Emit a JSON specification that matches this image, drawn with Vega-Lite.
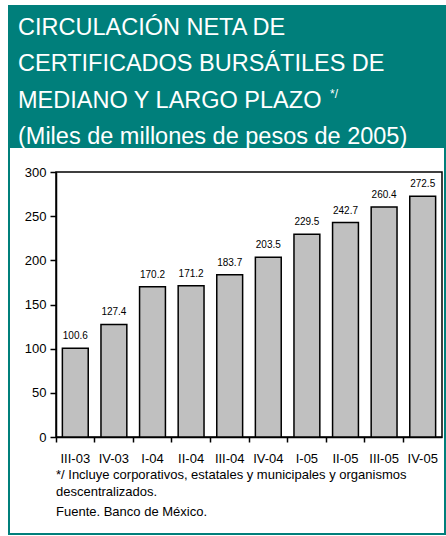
{
  "$schema": "https://vega.github.io/schema/vega-lite/v6.json",
  "padding": {"left": 8, "top": 5, "right": 0, "bottom": 0},
  "background": "white",
  "spacing": 0,
  "config": {
    "font": "Liberation Sans",
    "view": {"stroke": null},
    "concat": {"spacing": 0}
  },
  "hconcat": [
    {
      "width": 2, "height": 530,
      "view": {"fill": "#007f7b", "stroke": null},
      "data": {"values": []},
      "mark": "rect"
    },
    {
      "spacing": 0,
      "vconcat": [
        {
          "width": 434, "height": 143,
          "view": {"fill": "#007f7b", "stroke": null},
          "data": {"values": [
            {"line": 1, "text": "CIRCULACIÓN NETA DE", "note": ""},
            {"line": 2, "text": "CERTIFICADOS BURSÁTILES DE", "note": ""},
            {"line": 3, "text": "MEDIANO Y LARGO PLAZO", "note": "*/"},
            {"line": 4, "text": "(Miles de millones de pesos de 2005)", "note": ""}
          ]},
          "encoding": {
            "y": {"field": "line", "type": "ordinal", "scale": {"type": "point", "range": [23, 132], "padding": 0}, "axis": null},
            "x": {"value": 8}
          },
          "layer": [
            {
              "mark": {"type": "text", "align": "left", "baseline": "middle", "fontSize": 23.5, "color": "white"},
              "encoding": {"text": {"field": "text"}}
            },
            {
              "mark": {"type": "text", "align": "left", "baseline": "middle", "fontSize": 12, "color": "white", "dx": 312, "dy": -7},
              "encoding": {"text": {"field": "note"}}
            }
          ]
        },
        {
          "width": 434, "height": 16,
          "data": {"values": []},
          "mark": "rect"
        },
        {
          "spacing": 0,
          "hconcat": [
            {
              "width": 1, "height": 265,
              "data": {"values": []},
              "mark": "rect"
            },
            {
              "width": 386, "height": 265,
              "view": {"stroke": "black", "strokeWidth": 1.5},
              "title": {
                "text": ["\u00a0\u00a0*/ Incluye corporativos, estatales y municipales y organismos", "\u00a0\u00a0descentralizados."],
                "subtitle": "Fuente. Banco de México.",
                "orient": "bottom", "anchor": "start", "frame": "group",
                "offset": 4, "fontSize": 13, "fontWeight": "normal", "lineHeight": 17, "color": "black",
                "subtitleFontSize": 13, "subtitleColor": "black", "subtitlePadding": 7, "subtitleLineHeight": 17
              },
              "data": {"values": [
                {"q": "III-03", "v": 100.6},
                {"q": "IV-03", "v": 127.4},
                {"q": "I-04", "v": 170.2},
                {"q": "II-04", "v": 171.2},
                {"q": "III-04", "v": 183.7},
                {"q": "IV-04", "v": 203.5},
                {"q": "I-05", "v": 229.5},
                {"q": "II-05", "v": 242.7},
                {"q": "III-05", "v": 260.4},
                {"q": "IV-05", "v": 272.5}
              ]},
              "encoding": {
                "x": {"field": "q", "type": "nominal", "sort": null,
                      "scale": {"paddingInner": 0, "paddingOuter": 0},
                      "axis": {"title": null, "labelAngle": 0, "labelFontSize": 13, "labelColor": "black",
                               "tickColor": "black", "tickSize": 5, "tickWidth": 1.5, "bandPosition": 0,
                               "domainColor": "black", "domainWidth": 1.5, "labelPadding": 10}},
                "y": {"field": "v", "type": "quantitative",
                      "scale": {"domain": [0, 300], "nice": false},
                      "axis": {"title": null, "values": [0, 50, 100, 150, 200, 250, 300], "grid": false,
                               "labelFontSize": 13, "labelColor": "black", "tickColor": "black", "tickSize": 6,
                               "tickWidth": 1.5, "labelPadding": 4, "domainColor": "black", "domainWidth": 1.5,
                               "minExtent": 44}}
              },
              "layer": [
                {
                  "mark": {"type": "bar", "width": {"band": 0.67}, "color": "#c0c0c0", "stroke": "black", "strokeWidth": 1.5}
                },
                {
                  "mark": {"type": "text", "baseline": "middle", "dy": -12, "fontSize": 10, "color": "black"},
                  "encoding": {"text": {"field": "v", "type": "quantitative", "format": ".1f"}}
                }
              ]
            }
          ]
        },
        {
          "width": 434, "height": 13,
          "data": {"values": []},
          "mark": "rect"
        },
        {
          "width": 434, "height": 2,
          "view": {"fill": "#007f7b", "stroke": null},
          "data": {"values": []},
          "mark": "rect"
        }
      ]
    },
    {
      "width": 2, "height": 530,
      "view": {"fill": "#007f7b", "stroke": null},
      "data": {"values": []},
      "mark": "rect"
    }
  ]
}
